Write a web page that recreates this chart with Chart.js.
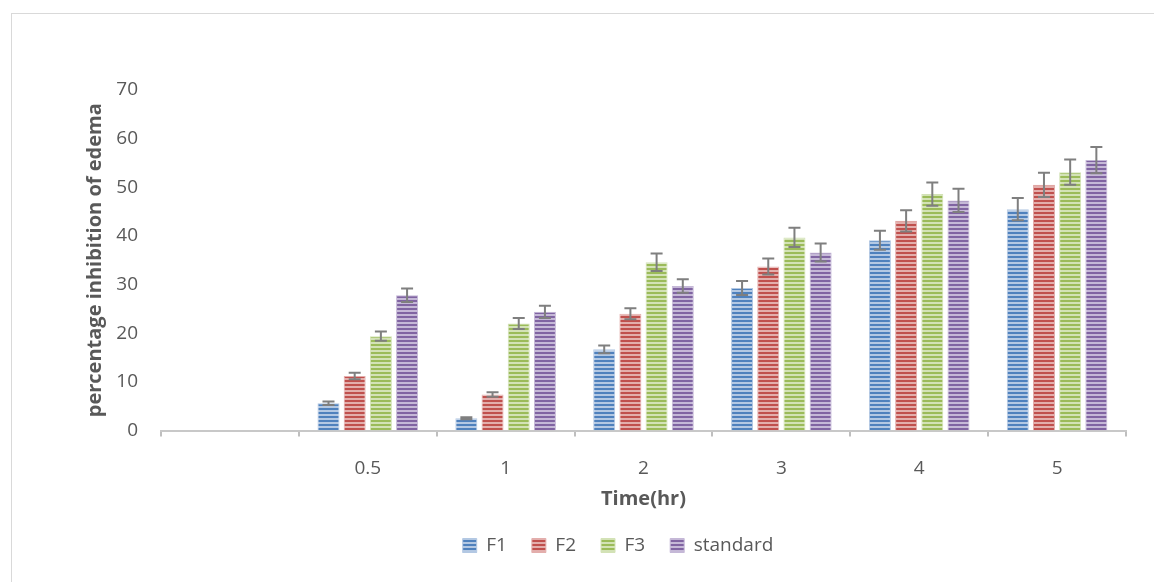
<!DOCTYPE html>
<html>
<head>
<meta charset="utf-8">
<script src="https://cdn.jsdelivr.net/npm/chart.js@4.4.1/dist/chart.umd.min.js"></script>
<style>
  html, body { margin: 0; padding: 0; background: #fff; }
  #wrap { position: relative; width: 1154px; height: 582px; overflow: hidden; }
  #frame { position: absolute; left: 11px; top: 13px; width: 1160px; height: 600px; border: 1px solid #d9d9d9; }
  canvas { position: absolute; left: 0; top: 0; }
</style>
</head>
<body>
<div id="wrap">
  <div id="frame"></div>
  <canvas id="myChart" width="1154" height="582"></canvas>
</div>
<script>
// time points (first slot is left empty, as in the original)
const categories = ['', '0.5', '1', '2', '3', '4', '5'];
const seriesNames = ['F1', 'F2', 'F3', 'standard'];

const f1 = [null, 5.6, 2.5, 16.7, 29.3, 39.1, 45.5];
const f2 = [null, 11.2, 7.4, 24.0, 33.7, 43.1, 50.5];
const f3 = [null, 19.4, 22.0, 34.6, 39.7, 48.6, 53.1];
const standard = [null, 27.8, 24.4, 29.7, 36.6, 47.3, 55.6];

const f1Err = [null, 0.35, 0.2, 0.8, 1.45, 1.95, 2.3];
const f2Err = [null, 0.65, 0.45, 1.15, 1.65, 2.2, 2.5];
const f3Err = [null, 0.95, 1.15, 1.8, 2.0, 2.4, 2.6];
const standardErr = [null, 1.4, 1.25, 1.4, 1.85, 2.4, 2.7];

const yTicks = [0, 10, 20, 30, 40, 50, 60, 70];

const darkCols = ['#4F81BD', '#C0504D', '#9BBB59', '#8064A2'];
const lightCols = ['#B3C8E3', '#E3AEAC', '#D3E2B6', '#C5B8D7'];

// horizontal stripes like the office "narrow horizontal" fill
function stripes(dark, light) {
  const c = document.createElement('canvas');
  c.width = 4; c.height = 4;
  const g = c.getContext('2d');
  g.fillStyle = light;
  g.fillRect(0, 0, 4, 4);
  g.fillStyle = dark;
  g.fillRect(0, 0, 4, 2);
  return g.createPattern(c, 'repeat');
}

const values = [f1, f2, f3, standard];
const errors = [f1Err, f2Err, f3Err, standardErr];

const errorBars = {
  id: 'errorBars',
  afterDatasetsDraw(chart) {
    const ctx = chart.ctx;
    const y = chart.scales.y;
    ctx.save();
    ctx.strokeStyle = '#7F7F7F';
    ctx.lineWidth = 2;
    chart.data.datasets.forEach((ds, i) => {
      const meta = chart.getDatasetMeta(i);
      meta.data.forEach((bar, j) => {
        const v = ds.data[j], e = errors[i][j];
        if (v == null || e == null) return;
        const top = y.getPixelForValue(v + e);
        const bot = y.getPixelForValue(v - e);
        ctx.beginPath();
        ctx.moveTo(bar.x, top); ctx.lineTo(bar.x, bot);
        ctx.moveTo(bar.x - 6, top); ctx.lineTo(bar.x + 6, top);
        ctx.moveTo(bar.x - 6, bot); ctx.lineTo(bar.x + 6, bot);
        ctx.stroke();
      });
    });
    ctx.restore();
  }
};

const font = 'Open Sans';
const txt = '#595959';

new Chart(document.getElementById('myChart'), {
  type: 'bar',
  data: {
    labels: categories,
    datasets: seriesNames.map((name, i) => ({
      label: name,
      data: values[i],
      backgroundColor: stripes(darkCols[i], lightCols[i]),
      borderColor: lightCols[i],
      borderWidth: 1,
      categoryPercentage: 0.76,
      barPercentage: 0.84
    }))
  },
  options: {
    responsive: false,
    animation: false,
    layout: { padding: { left: 110, right: 28, top: 90, bottom: 17 } },
    plugins: {
      tooltip: { enabled: false },
      legend: {
        position: 'bottom',
        labels: {
          font: { family: font, size: 19 },
          color: txt,
          boxWidth: 14,
          boxHeight: 14,
          padding: 25
        }
      }
    },
    scales: {
      x: {
        afterFit: s => { s.height = 80.5; },
        grid: { offset: true, drawOnChartArea: false, color: '#BFBFBF', lineWidth: 2, tickLength: 6 },
        border: { color: '#C8C8C8', width: 2 },
        ticks: { font: { family: font, size: 19 }, color: txt, padding: 20.5 },
        title: {
          display: true, text: 'Time(hr)', color: txt,
          font: { family: font, size: 20, weight: 'bold' },
          padding: { top: 0, bottom: 0 }
        }
      },
      y: {
        min: 0, max: 70,
        afterFit: s => { s.width = 51; },
        afterBuildTicks: s => { s.ticks = yTicks.map(v => ({ value: v })); },
        grid: { display: false, drawTicks: false },
        border: { display: false },
        ticks: { font: { family: font, size: 19 }, color: txt, padding: 23 },
        title: {
          display: true, text: 'percentage inhibition of edema', color: txt,
          font: { family: font, size: 20, weight: 'bold' },
          padding: { top: -27, bottom: 0 }
        }
      }
    }
  },
  plugins: [errorBars]
});
</script>
</body>
</html>
